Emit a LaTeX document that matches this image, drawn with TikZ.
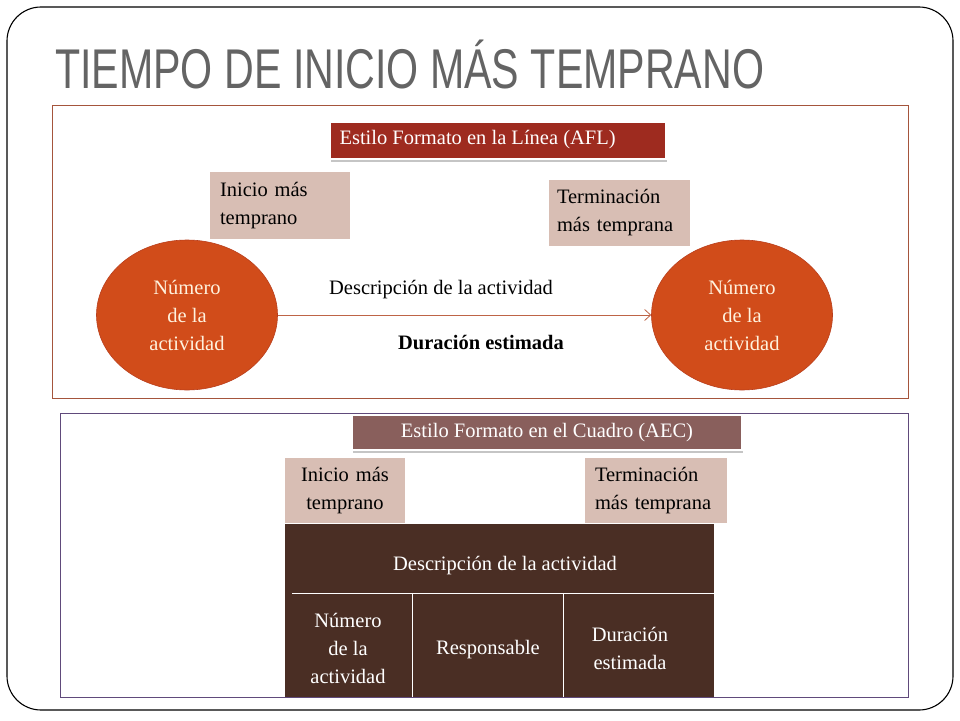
\documentclass[tikz,border=0pt]{standalone}
\usepackage{fontspec}
\setmainfont{Liberation Serif}
\newfontfamily\titlefont{Liberation Sans}
\usetikzlibrary{shapes.geometric,shadows,arrows.meta}
\definecolor{frameA}{RGB}{165,85,60}
\definecolor{frameB}{RGB}{96,74,123}
\definecolor{aflfill}{RGB}{158,43,31}
\definecolor{aecfill}{RGB}{137,95,92}
\definecolor{pinkfill}{RGB}{216,190,180}
\definecolor{ellfill}{RGB}{209,76,26}
\definecolor{elldraw}{RGB}{185,62,28}
\definecolor{cream}{RGB}{255,242,222}
\definecolor{tblfill}{RGB}{74,46,36}
\definecolor{arrowcol}{RGB}{190,100,70}
\definecolor{titlegray}{RGB}{100,100,100}
\tikzset{
  bodyfont/.style={font=\fontsize{20.5}{28}\selectfont},
  labelbox/.style={bodyfont, text=white, draw=white, line width=2pt,
     drop shadow={shadow xshift=1pt, shadow yshift=-3pt, opacity=0.45},
     inner sep=0pt},
  pinkbox/.style={bodyfont, fill=pinkfill, inner ysep=0pt},
  ell/.style={ellipse, bodyfont, fill=ellfill, draw=elldraw, line width=0.6pt,
     text=cream, align=center, minimum width=181pt, minimum height=150pt, inner sep=0pt},
  celltext/.style={bodyfont, text=white, align=center},
  tblline/.style={draw=white, line width=0.9pt}
}
\begin{document}
\begin{tikzpicture}[x=1pt,y=-1pt]
\useasboundingbox (0,0) rectangle (960,720);
\fill[white] (0,0) rectangle (960,720);
\draw[rounded corners=34pt, line width=1.1pt] (7,7) rectangle (953,710);

\node[anchor=base west, inner sep=0pt, text=titlegray,
      font=\titlefont\fontsize{56}{56}\selectfont] (title) at (55,88)
      {\scalebox{0.735}[1]{TIEMPO DE INICIO MÁS TEMPRANO}};

% top panel
\node[draw=frameA, line width=0.7pt, anchor=north west, minimum width=856pt,
      minimum height=293pt, inner sep=0pt] (boxA) at (52,105) {};
\node[labelbox, fill=aflfill, minimum width=336pt, minimum height=37pt] (afl) at (497.5,140)
      {\makebox[316pt][l]{Estilo Formato en la Línea (AFL)}};
\node[pinkbox, minimum width=140pt, minimum height=67pt, text width=120pt,
      inner xsep=10pt, align=left] (iniA) at (280,205.5) {Inicio más\\temprano};
\node[pinkbox, minimum width=141pt, minimum height=66pt, text width=125pt,
      inner xsep=8pt, align=left] (terA) at (619.5,213) {Terminación\\más temprana};
\node[ell] (e1) at (187,315) {Número\\de la\\actividad};
\node[ell] (e2) at (742,315) {Número\\de la\\actividad};
\draw[arrowcol, line width=0.8pt, -{Straight Barb[length=6pt,width=11pt]}] (e1.east) -- (e2.west);
\node[bodyfont] (desc) at (441,290) {Descripción de la actividad};
\node[font=\fontsize{20.5}{28}\selectfont\bfseries] (dur) at (481,342) {Duración estimada};

% bottom panel
\node[draw=frameB, line width=0.8pt, anchor=north west, minimum width=848pt,
      minimum height=284pt, inner sep=0pt] (boxB) at (60,413) {};
\node[labelbox, fill=aecfill, minimum width=390pt, minimum height=35pt] (aec) at (547,432.5)
      {Estilo Formato en el Cuadro (AEC)};
\node[pinkbox, minimum width=120pt, minimum height=65pt, text width=110pt,
      inner xsep=5pt, align=center] (iniB) at (345,490.5) {Inicio más\\temprano};
\node[pinkbox, minimum width=142pt, minimum height=65pt, text width=122pt,
      inner xsep=10pt, align=left] (terB) at (656,490.5) {Terminación\\más temprana};
\node[fill=tblfill, anchor=north west, minimum width=429pt, minimum height=173pt,
      inner sep=0pt] (tbl) at (285,524) {};
\coordinate (hl) at (292,593);
\coordinate (hr) at (714,593);
\coordinate (v1t) at (412,593);
\coordinate (v1b) at (412,697);
\coordinate (v2t) at (563,593);
\coordinate (v2b) at (563,697);
\draw[tblline] (hl) -- (hr);
\draw[tblline] (v1t) -- (v1b);
\draw[tblline] (v2t) -- (v2b);
\node[celltext] (tdesc) at (505,566) {Descripción de la actividad};
\node[celltext] (tnum) at (348,648) {Número\\de la\\actividad};
\node[celltext] (tresp) at (488,650) {Responsable};
\node[celltext] (tdur) at (630,648) {Duración\\estimada};
\end{tikzpicture}
\end{document}
